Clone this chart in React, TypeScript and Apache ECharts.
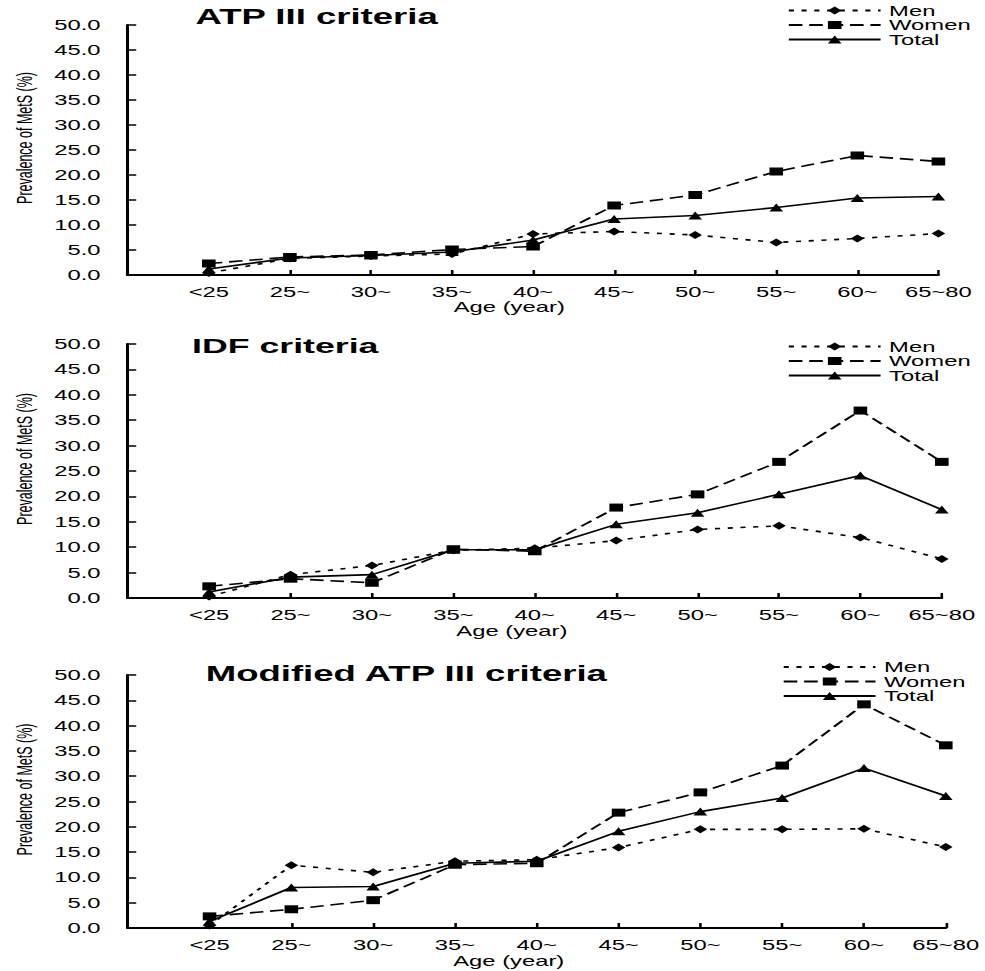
import React, { useEffect, useRef } from "react";
import * as echarts from "echarts";

const categories = ["<25", "25~", "30~", "35~", "40~", "45~", "50~", "55~", "60~", "65~80"];
const seriesNames = ["Men", "Women", "Total"];
const panelTitles = ["ATP III criteria", "IDF criteria", "Modified ATP III criteria"];

const atpMen = [0.4, 3.3, 3.8, 4.2, 8.2, 8.7, 8.0, 6.5, 7.3, 8.3];
const atpWomen = [2.3, 3.6, 4.0, 5.1, 5.7, 13.9, 16.0, 20.7, 23.9, 22.7];
const atpTotal = [1.2, 3.4, 3.9, 4.6, 7.0, 11.2, 11.9, 13.5, 15.4, 15.7];

const idfMen = [0.3, 4.6, 6.4, 9.4, 9.8, 11.3, 13.5, 14.2, 11.9, 7.7];
const idfWomen = [2.3, 3.8, 3.0, 9.6, 9.2, 17.8, 20.4, 26.8, 36.9, 26.8];
const idfTotal = [1.2, 4.1, 4.6, 9.5, 9.5, 14.5, 16.8, 20.4, 24.1, 17.4];

const modMen = [0.5, 12.4, 11.0, 13.2, 13.5, 15.9, 19.5, 19.5, 19.6, 16.0];
const modWomen = [2.3, 3.7, 5.5, 12.5, 12.8, 22.8, 26.8, 32.1, 44.2, 36.1];
const modTotal = [1.3, 8.0, 8.2, 12.8, 13.2, 19.1, 23.0, 25.7, 31.6, 26.1];

const panelData = [
  [atpMen, atpWomen, atpTotal],
  [idfMen, idfWomen, idfTotal],
  [modMen, modWomen, modTotal],
];

const SX = 1.7;
const W = 579;
const H = 971;
const FONT = "'Liberation Sans', Arial, sans-serif";

const grids = [
  { left: 73, right: 27, top: 25, height: 250 },
  { left: 74, right: 25, top: 344, height: 254 },
  { left: 75, right: 21, top: 675, height: 253 },
];
const titlePos = [
  { left: 115, top: 5, size: 21.5 },
  { left: 113, top: 335, size: 21 },
  { left: 121, top: 662, size: 21.5 },
];
const legendPos = [
  { left: 463, top: 3.5, lh: 13 },
  { left: 463, top: 339.5, lh: 13 },
  { left: 460, top: 660, lh: 11 },
];
const xNamePad = [28, 27, 33];
const xNameGap = [24, 26, 26];

const symbols = ["diamond", "rect", "triangle"];
const symbolSizes: any[] = [[8, 8], [8, 8], [8, 8]];
const dashTypes: any[] = [[3, 4.5], [8, 4], "solid"];

export default function App() {
  const ref = useRef<HTMLDivElement>(null);
  useEffect(() => {
    document.body.style.overflow = "hidden";
    const chart = echarts.init(ref.current!, null, { renderer: "svg" });
    const xCats = ["", ...categories];
    const series: any[] = [];
    panelData.forEach((arr, gi) => {
      arr.forEach((vals, si) => {
        series.push({
          type: "line",
          name: seriesNames[si],
          xAxisIndex: gi,
          yAxisIndex: gi,
          data: [null, ...vals],
          symbol: symbols[si],
          symbolSize: symbolSizes[si],
          showAllSymbol: true,
          itemStyle: { color: "#000" },
          lineStyle: { color: "#000", width: 1.6, type: dashTypes[si] },
          z: 3 - si,
        });
      });
    });
    chart.setOption({
      animation: false,
      backgroundColor: "#fff",
      textStyle: { fontFamily: FONT, color: "#000" },
      title: panelTitles.map((t, i) => ({
        text: t,
        left: titlePos[i].left,
        top: titlePos[i].top,
        padding: 0,
        textStyle: { fontFamily: FONT, fontWeight: "bold", fontSize: titlePos[i].size, color: "#000" },
      })),
      legend: legendPos.map((p) => ({
        data: seriesNames,
        orient: "vertical",
        left: p.left,
        top: p.top,
        padding: 0,
        itemGap: 0.5,
        itemWidth: 54,
        itemHeight: 10,
        selectedMode: false,
        textStyle: { fontFamily: FONT, fontSize: 14, color: "#000", lineHeight: p.lh },
      })),
      grid: grids.map((g) => ({ ...g, containLabel: false })),
      xAxis: grids.map((_, i) => ({
        type: "category",
        gridIndex: i,
        data: xCats,
        boundaryGap: false,
        name: "Age (year)",
        nameLocation: "middle",
        nameGap: xNameGap[i],
        nameTextStyle: { fontFamily: FONT, fontSize: 14, color: "#000", padding: [0, xNamePad[i], 0, 0] },
        axisLine: { lineStyle: { color: "#000", width: 1.8 } },
        axisTick: { inside: true, length: 5, interval: 0, lineStyle: { color: "#000", width: 1.5 } },
        axisLabel: { interval: 0, margin: 10, fontFamily: FONT, fontSize: 14, color: "#000" },
        splitLine: { show: false },
      })),
      yAxis: grids.map((_, i) => ({
        type: "value",
        gridIndex: i,
        min: 0,
        max: 50,
        interval: 5,
        name: "Prevalence of MetS (%)",
        nameLocation: "middle",
        nameGap: 52,
        nameTextStyle: { fontFamily: FONT, fontSize: 12.5, color: "#000", padding: [0, 0, 0, 24] },
        axisLine: { show: true, lineStyle: { color: "#000", width: 1.8 } },
        axisTick: { show: true, inside: true, length: 5, lineStyle: { color: "#000", width: 1.5 } },
        axisLabel: {
          margin: 16,
          fontFamily: FONT,
          fontSize: 14,
          color: "#000",
          formatter: (v: number) => v.toFixed(1),
        },
        splitLine: { show: false },
      })),
      series,
    });
    return () => chart.dispose();
  }, []);
  return (
    <div
      style={{
        position: "absolute",
        left: 0,
        top: 0,
        width: W * SX,
        height: H,
        overflow: "hidden",
        background: "#fff",
      }}
    >
      <div
        ref={ref}
        style={{
          width: W,
          height: H,
          transform: `scaleX(${SX})`,
          transformOrigin: "0 0",
        }}
      />
    </div>
  );
}
